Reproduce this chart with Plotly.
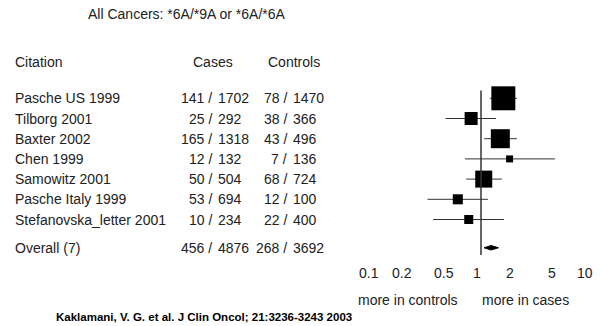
import math
import plotly.graph_objects as go

# ---------------- data ----------------
title_text = "All Cancers: *6A/*9A or *6A/*6A"
citations = ["Pasche US 1999", "Tilborg 2001", "Baxter 2002", "Chen 1999",
             "Samowitz 2001", "Pasche Italy 1999", "Stefanovska_letter 2001"]
cases_events = [141, 25, 165, 12, 50, 53, 10]
cases_total = [1702, 292, 1318, 132, 504, 694, 234]
controls_events = [78, 38, 43, 7, 68, 12, 22]
controls_total = [1470, 366, 496, 136, 724, 100, 400]
odds_ratio = [1.61, 0.81, 1.51, 1.84, 1.06, 0.61, 0.77]
ci_low = [1.21, 0.47, 1.07, 0.71, 0.73, 0.32, 0.36]
ci_high = [2.15, 1.38, 2.15, 4.84, 1.56, 1.16, 1.63]
study_weight = [35.4, 10.4, 22.2, 3.0, 17.8, 6.2, 5.0]  # percent

overall_label = "Overall (7)"
overall_cases = (456, 4876)
overall_controls = (268, 3692)
overall_or = 1.24
overall_low = 1.066
overall_high = 1.45

tick_values = [0.1, 0.2, 0.5, 1, 2, 5, 10]
tick_labels = ["0.1", "0.2", "0.5", "1", "2", "5", "10"]
favours_left = "more in controls"
favours_right = "more in cases"
source_text = "Kaklamani, V. G. et al. J Clin Oncol; 21:3236-3243 2003"

# ---------------- layout helpers ----------------
W, H = 600, 326
FONT = "Liberation Sans, Arial, Helvetica, sans-serif"
TXT = "#222222"
FS = 14

def px(x):
    return x / W

def py(y):
    return 1 - y / H

n = len(citations)
rows = list(range(n))
overall_row = n + 0.4
row_px0, row_step = 98.3, 20.2
y_top = (0 - row_px0) / row_step
y_bot = (H - row_px0) / row_step

fig = go.Figure()

# CI lines + squares
fig.add_trace(go.Scatter(
    x=odds_ratio, y=rows, mode="markers",
    marker=dict(symbol="square", color="black", opacity=1,
                size=[4.03 * w ** 0.5 for w in study_weight], line=dict(width=0)),
    error_x=dict(type="data", symmetric=False,
                 array=[h - o for h, o in zip(ci_high, odds_ratio)],
                 arrayminus=[o - l for o, l in zip(odds_ratio, ci_low)],
                 width=0, color="#333333", thickness=1),
    showlegend=False, hoverinfo="skip"))

# overall diamond
dh = 0.11
fig.add_trace(go.Scatter(
    x=[overall_low, overall_or, overall_high, overall_or, overall_low],
    y=[overall_row, overall_row - dh, overall_row, overall_row + dh, overall_row],
    mode="lines", fill="toself", fillcolor="black",
    line=dict(color="black", width=1), showlegend=False, hoverinfo="skip"))

# null line
fig.add_shape(type="line", xref="x", yref="y", x0=1, x1=1,
              y0=-0.38, y1=7.76, line=dict(color="#333333", width=1.5))

ann = []

def add(text, x, y, xanchor="left", yref="y", xref="paper", size=FS,
        bold=False, color=TXT, xshift=0):
    ann.append(dict(text=("<b>%s</b>" % text) if bold else text,
                    x=x, y=y, xref=xref, yref=yref, xanchor=xanchor,
                    yanchor="middle", showarrow=False, xshift=xshift,
                    font=dict(family=FONT, size=size, color=color)))

add(title_text, px(187), py(14), xanchor="center", yref="paper")
add("Citation", px(13), py(62), yref="paper")
add("Cases", px(213), py(62), xanchor="center", yref="paper")
add("Controls", px(294), py(62), xanchor="center", yref="paper")

cases_slash, controls_slash = 214, 289
for i in range(n):
    add(citations[i], px(13), rows[i])
    add("%d /" % cases_events[i], px(cases_slash), rows[i], xanchor="right")
    add("%d" % cases_total[i], px(cases_slash + 2), rows[i])
    add("%d /" % controls_events[i], px(controls_slash), rows[i], xanchor="right")
    add("%d" % controls_total[i], px(controls_slash + 2), rows[i])

add(overall_label, px(13), overall_row)
add("%d /" % overall_cases[0], px(cases_slash), overall_row, xanchor="right")
add("%d" % overall_cases[1], px(cases_slash + 2), overall_row)
add("%d /" % overall_controls[0], px(controls_slash), overall_row, xanchor="right")
add("%d" % overall_controls[1], px(controls_slash + 2), overall_row)

# tick labels of the log axis, placed through the x axis scale (log coords)
for v, lab in zip(tick_values, tick_labels):
    add(lab, math.log10(v), py(273), xanchor="center", yref="paper", xref="x",
        xshift=-4)

add(favours_left, px(408), py(300), xanchor="center", yref="paper")
add(favours_right, px(525), py(300), xanchor="center", yref="paper")
add(source_text, px(54), py(317), yref="paper", size=11.5, bold=True, color="black")

fig.update_layout(
    width=W, height=H, margin=dict(l=0, r=0, t=0, b=0, pad=0),
    paper_bgcolor="white", plot_bgcolor="white",
    annotations=ann,
    xaxis=dict(type="log", range=[-1, 1], domain=[px(373), px(589)],
               showticklabels=False,
               showgrid=False, zeroline=False, showline=False, ticks=""),
    yaxis=dict(range=[y_bot, y_top], visible=False, domain=[0, 1]),
)

fig.write_html("out.html",
               config={"displayModeBar": False},
               post_script="document.body.style.margin='0';"
                           "document.body.style.overflow='hidden';")
